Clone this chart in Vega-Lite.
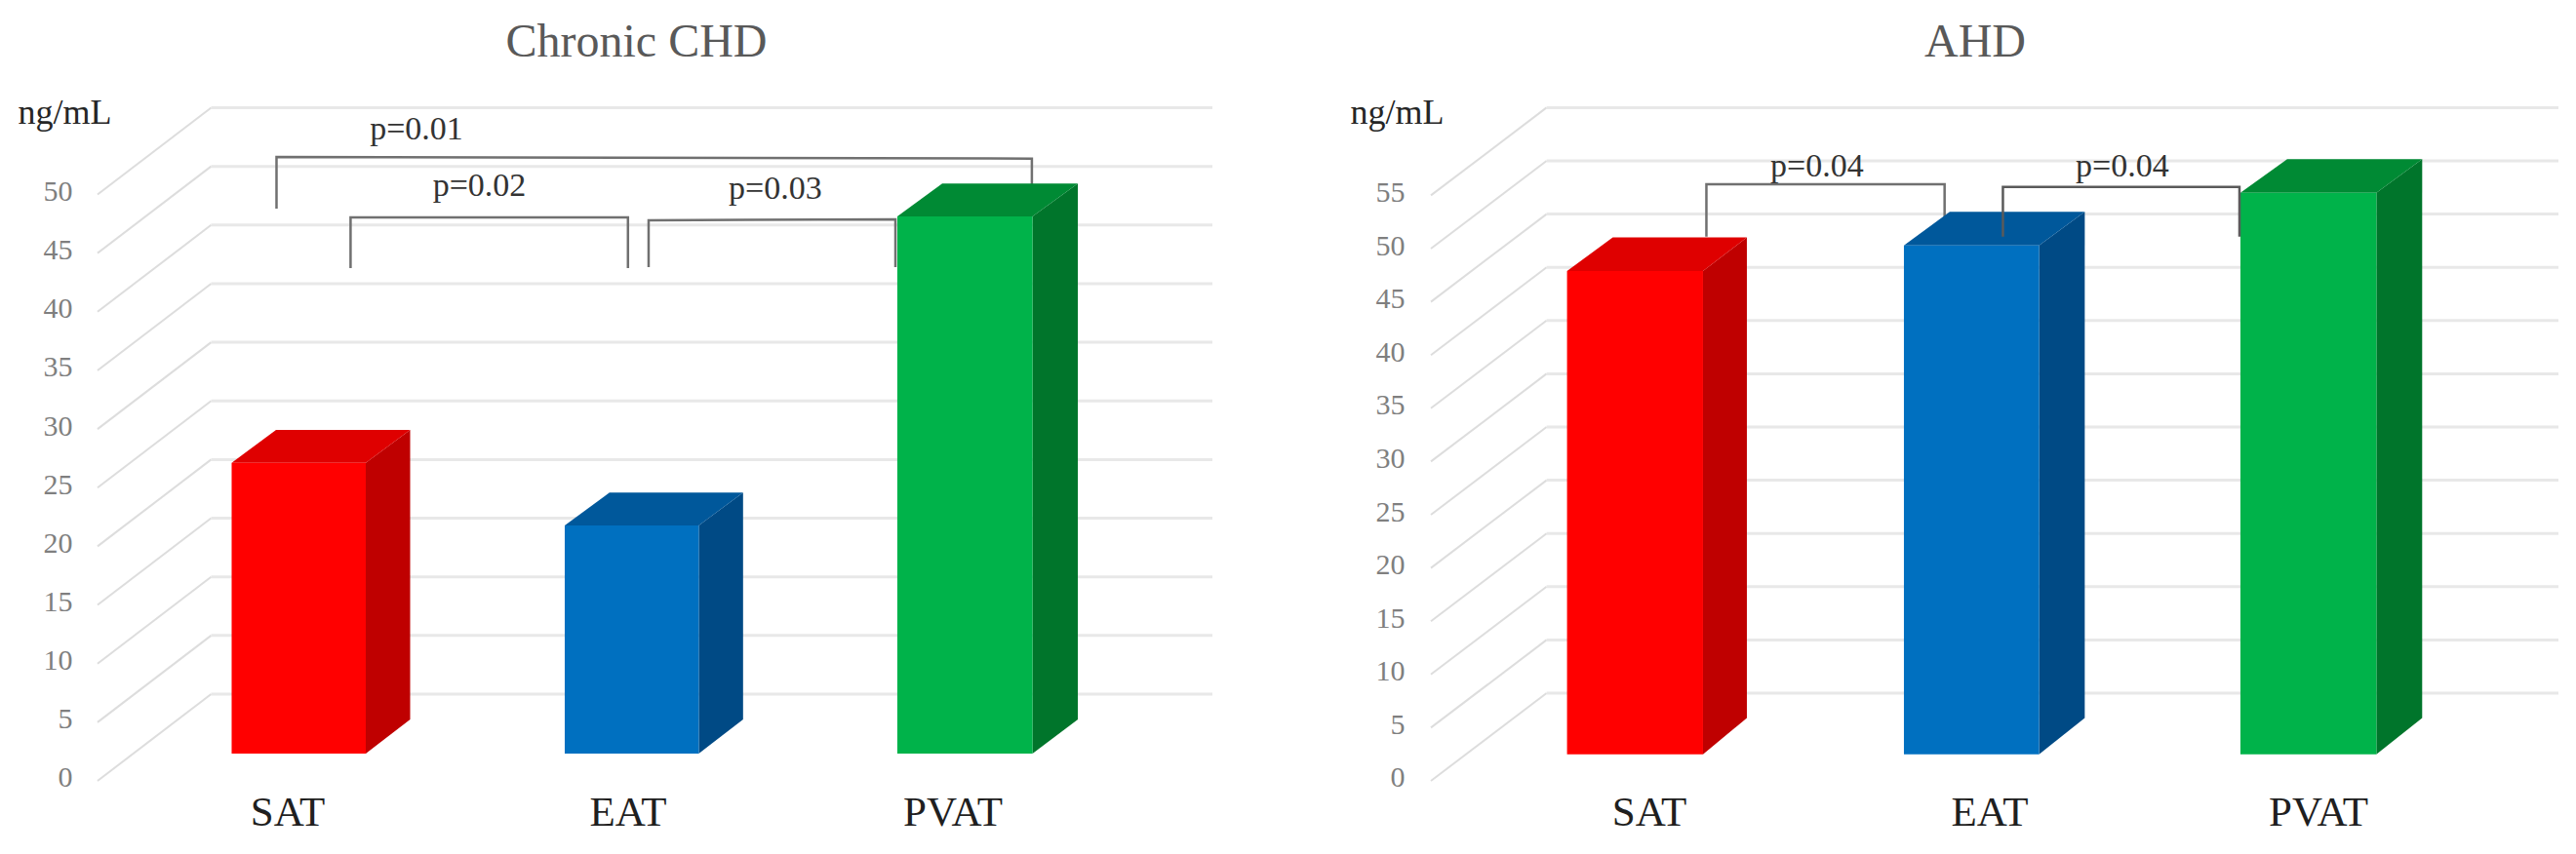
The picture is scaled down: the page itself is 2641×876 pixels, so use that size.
{
"$schema":"https://vega.github.io/schema/vega-lite/v6.json",
"background":"white",
"padding":{"left":18,"top":20,"right":0,"bottom":0},
"spacing":139,
"config":{"view":{"stroke":null},"font":"Liberation Serif"},
"datasets":{
"chdTicks":[{"tick":0},{"tick":5},{"tick":10},{"tick":15},{"tick":20},{"tick":25},{"tick":30},{"tick":35},{"tick":40},{"tick":45},{"tick":50}],
"ahdTicks":[{"tick":0},{"tick":5},{"tick":10},{"tick":15},{"tick":20},{"tick":25},{"tick":30},{"tick":35},{"tick":40},{"tick":45},{"tick":50},{"tick":55}],
"chdBars":[{"group":"SAT","value":24.8,"pos0":0.4026,"pos1":0.8053},{"group":"EAT","value":19.45,"pos0":1.4026,"pos1":1.805},{"group":"PVAT","value":45.8,"pos0":2.401,"pos1":2.807}],
"ahdBars":[{"group":"SAT","value":45.4,"pos0":0.4046,"pos1":0.8087},{"group":"EAT","value":47.8,"pos0":1.4058,"pos1":1.8075},{"group":"PVAT","value":52.75,"pos0":2.4058,"pos1":2.81}],
"chdSide":[{"group":"SAT","pos":0.8053,"top":27.13,"bottom":2.33},{"group":"SAT","pos":0.9385,"top":29.93,"bottom":5.24},{"group":"EAT","pos":1.805,"top":21.78,"bottom":2.33},{"group":"EAT","pos":1.938,"top":24.58,"bottom":5.24},{"group":"PVAT","pos":2.807,"top":48.13,"bottom":2.33},{"group":"PVAT","pos":2.943,"top":50.93,"bottom":5.24}],
"ahdSide":[{"group":"SAT","pos":0.8087,"top":47.9,"bottom":2.5},{"group":"SAT","pos":0.9391,"top":51.05,"bottom":5.9},{"group":"EAT","pos":1.8075,"top":50.3,"bottom":2.5},{"group":"EAT","pos":1.9432,"top":53.45,"bottom":5.9},{"group":"PVAT","pos":2.81,"top":55.25,"bottom":2.5},{"group":"PVAT","pos":2.946,"top":58.4,"bottom":5.9}],
"chdTop":[{"group":"SAT","level":27.13,"pos0":0.4026,"pos1":0.8053},{"group":"SAT","level":29.93,"pos0":0.5359,"pos1":0.9385},{"group":"EAT","level":21.78,"pos0":1.4026,"pos1":1.805},{"group":"EAT","level":24.58,"pos0":1.537,"pos1":1.938},{"group":"PVAT","level":48.13,"pos0":2.401,"pos1":2.807},{"group":"PVAT","level":50.93,"pos0":2.536,"pos1":2.943}],
"ahdTop":[{"group":"SAT","level":47.9,"pos0":0.4046,"pos1":0.8087},{"group":"SAT","level":51.05,"pos0":0.5406,"pos1":0.9391},{"group":"EAT","level":50.3,"pos0":1.4058,"pos1":1.8075},{"group":"EAT","level":53.45,"pos0":1.542,"pos1":1.9432},{"group":"PVAT","level":55.25,"pos0":2.4058,"pos1":2.81},{"group":"PVAT","level":58.4,"pos0":2.545,"pos1":2.946}],
"chdBrackets":[
{"bracket":"p=0.01","step":1,"pos":0.5373,"level":48.8},{"bracket":"p=0.01","step":2,"pos":0.5373,"level":53.2},{"bracket":"p=0.01","step":3,"pos":2.805,"level":53.06},{"bracket":"p=0.01","step":4,"pos":2.805,"level":48.8},
{"bracket":"p=0.02","step":1,"pos":0.7596,"level":43.72},{"bracket":"p=0.02","step":2,"pos":0.7596,"level":48.05},{"bracket":"p=0.02","step":3,"pos":1.5924,"level":48.05},{"bracket":"p=0.02","step":4,"pos":1.5924,"level":43.72},
{"bracket":"p=0.03","step":1,"pos":1.6544,"level":43.8},{"bracket":"p=0.03","step":2,"pos":1.6544,"level":47.8},{"bracket":"p=0.03","step":3,"pos":2.3953,"level":47.88},{"bracket":"p=0.03","step":4,"pos":2.3953,"level":43.8}],
"ahdBracketsBehind":[{"bracket":"SAT-EAT","step":1,"pos":0.8188,"level":51.13},{"bracket":"SAT-EAT","step":2,"pos":0.8188,"level":56.04},{"bracket":"SAT-EAT","step":3,"pos":1.5267,"level":56.04},{"bracket":"SAT-EAT","step":4,"pos":1.5267,"level":51.13}],
"ahdBracketsFront":[{"bracket":"EAT-PVAT","step":1,"pos":1.7,"level":51.13},{"bracket":"EAT-PVAT","step":2,"pos":1.7,"level":55.8},{"bracket":"EAT-PVAT","step":3,"pos":2.403,"level":55.8},{"bracket":"EAT-PVAT","step":4,"pos":2.403,"level":51.13}],
"chdP":[{"label":"p=0.01","pos":0.9575,"level":55.53},{"label":"p=0.02","pos":1.1464,"level":50.7},{"label":"p=0.03","pos":2.035,"level":50.46}],
"ahdP":[{"label":"p=0.04","pos":1.1478,"level":57.7},{"label":"p=0.04","pos":2.055,"level":57.7}],
"chdCat":[{"label":"SAT","pos":0.571,"level":-2.74},{"label":"EAT","pos":1.593,"level":-2.74},{"label":"PVAT","pos":2.568,"level":-2.74}],
"ahdCat":[{"label":"SAT","pos":0.6493,"level":-3.02},{"label":"EAT","pos":1.661,"level":-3.02},{"label":"PVAT","pos":2.638,"level":-3.02}]
},
"hconcat":[
{"width":1143,"height":776,
"title":{"text":"Chronic CHD","fontSize":48,"font":"Liberation Serif","fontWeight":"normal","color":"#595959","anchor":"middle","dx":-19,"offset":17},
"resolve":{"scale":{"color":"independent"}},
"layer":[
{"data":{"name":"chdTicks"},"mark":{"type":"rule","color":"#dddddd","strokeWidth":2,"y2Offset":-89},
"encoding":{"x":{"datum":0,"type":"quantitative","scale":{"domain":[0,3.347],"nice":false,"zero":false},"axis":null},"x2":{"datum":0.3411},
"y":{"field":"tick","type":"quantitative","scale":{"domain":[-4.988,59.52],"nice":false,"zero":false},
"axis":{"values":[0,5,10,15,20,25,30,35,40,45,50],"grid":false,"domain":false,"ticks":false,"labelPadding":26,"labelOffset":-3,"labelFontSize":30,"labelFont":"Liberation Serif","labelColor":"#7f7f7f","title":"ng/mL","titleAngle":0,"titleX":-82,"titleY":30,"titleAlign":"left","titleBaseline":"middle","titleFontSize":36,"titleFontWeight":"normal","titleFont":"Liberation Serif","titleColor":"#262626"}},"y2":{"field":"tick"}}},
{"data":{"name":"chdTicks"},"mark":{"type":"rule","color":"#e8e8e8","strokeWidth":3,"yOffset":-89},
"encoding":{"x":{"datum":0.3411,"type":"quantitative","scale":{"domain":[0,3.347],"nice":false,"zero":false}},"x2":{"datum":3.347},"y":{"field":"tick","type":"quantitative","scale":{"domain":[-4.988,59.52],"nice":false,"zero":false}}}},
{"data":{"name":"chdBrackets"},"mark":{"type":"line","color":"#707070","strokeWidth":2.5,"strokeJoin":"miter"},
"encoding":{"x":{"field":"pos","type":"quantitative","scale":{"domain":[0,3.347],"nice":false,"zero":false}},"y":{"field":"level","type":"quantitative","scale":{"domain":[-4.988,59.52],"nice":false,"zero":false}},"detail":{"field":"bracket"},"order":{"field":"step"}}},
{"data":{"name":"chdSide"},"mark":{"type":"area","orient":"vertical"},
"encoding":{"x":{"field":"pos","type":"quantitative","scale":{"domain":[0,3.347],"nice":false,"zero":false}},"y":{"field":"top","type":"quantitative","stack":null,"scale":{"domain":[-4.988,59.52],"nice":false,"zero":false}},"y2":{"field":"bottom"},"color":{"field":"group","type":"nominal","scale":{"domain":["SAT","EAT","PVAT"],"range":["#bf0000","#004a85","#00752b"]},"legend":null}}},
{"data":{"name":"chdTop"},"mark":{"type":"area","orient":"horizontal"},
"encoding":{"y":{"field":"level","type":"quantitative","scale":{"domain":[-4.988,59.52],"nice":false,"zero":false}},"x":{"field":"pos0","type":"quantitative","stack":null,"scale":{"domain":[0,3.347],"nice":false,"zero":false}},"x2":{"field":"pos1"},"color":{"field":"group","type":"nominal","scale":{"domain":["SAT","EAT","PVAT"],"range":["#df0000","#00589b","#008a34"]},"legend":null}}},
{"data":{"name":"chdBars"},"mark":{"type":"bar","yOffset":-28,"y2Offset":-28},
"encoding":{"x":{"field":"pos0","type":"quantitative","scale":{"domain":[0,3.347],"nice":false,"zero":false}},"x2":{"field":"pos1"},"y":{"field":"value","type":"quantitative","stack":null,"scale":{"domain":[-4.988,59.52],"nice":false,"zero":false}},"y2":{"datum":0},"color":{"field":"group","type":"nominal","scale":{"domain":["SAT","EAT","PVAT"],"range":["#ff0000","#0070c0","#00b34a"]},"legend":null}}},
{"data":{"name":"chdP"},"mark":{"type":"text","font":"Liberation Serif","fontSize":34,"color":"#333333","baseline":"middle"},
"encoding":{"x":{"field":"pos","type":"quantitative","scale":{"domain":[0,3.347],"nice":false,"zero":false}},"y":{"field":"level","type":"quantitative","scale":{"domain":[-4.988,59.52],"nice":false,"zero":false}},"text":{"field":"label"}}},
{"data":{"name":"chdCat"},"mark":{"type":"text","font":"Liberation Serif","fontSize":43,"color":"#1f1f1f","baseline":"middle"},
"encoding":{"x":{"field":"pos","type":"quantitative","scale":{"domain":[0,3.347],"nice":false,"zero":false}},"y":{"field":"level","type":"quantitative","scale":{"domain":[-4.988,59.52],"nice":false,"zero":false}},"text":{"field":"label"}}}
]},
{"width":1156,"height":776,
"title":{"text":"AHD","fontSize":48,"font":"Liberation Serif","fontWeight":"normal","color":"#595959","anchor":"middle","dx":-20,"offset":17},
"resolve":{"scale":{"color":"independent"}},
"layer":[
{"data":{"name":"ahdTicks"},"mark":{"type":"rule","color":"#dddddd","strokeWidth":2,"y2Offset":-90},
"encoding":{"x":{"datum":0,"type":"quantitative","scale":{"domain":[0,3.351],"nice":false,"zero":false},"axis":null},"x2":{"datum":0.3438},
"y":{"field":"tick","type":"quantitative","scale":{"domain":[-5.495,65.57],"nice":false,"zero":false},
"axis":{"values":[0,5,10,15,20,25,30,35,40,45,50,55],"grid":false,"domain":false,"ticks":false,"labelPadding":27,"labelOffset":-3,"labelFontSize":30,"labelFont":"Liberation Serif","labelColor":"#7f7f7f","title":"ng/mL","titleAngle":0,"titleX":-83,"titleY":30,"titleAlign":"left","titleBaseline":"middle","titleFontSize":36,"titleFontWeight":"normal","titleFont":"Liberation Serif","titleColor":"#262626"}},"y2":{"field":"tick"}}},
{"data":{"name":"ahdTicks"},"mark":{"type":"rule","color":"#e8e8e8","strokeWidth":3,"yOffset":-90},
"encoding":{"x":{"datum":0.3438,"type":"quantitative","scale":{"domain":[0,3.351],"nice":false,"zero":false}},"x2":{"datum":3.351},"y":{"field":"tick","type":"quantitative","scale":{"domain":[-5.495,65.57],"nice":false,"zero":false}}}},
{"data":{"name":"ahdBracketsBehind"},"mark":{"type":"line","color":"#707070","strokeWidth":2.5,"strokeJoin":"miter"},
"encoding":{"x":{"field":"pos","type":"quantitative","scale":{"domain":[0,3.351],"nice":false,"zero":false}},"y":{"field":"level","type":"quantitative","scale":{"domain":[-5.495,65.57],"nice":false,"zero":false}},"detail":{"field":"bracket"},"order":{"field":"step"}}},
{"data":{"name":"ahdSide"},"mark":{"type":"area","orient":"vertical"},
"encoding":{"x":{"field":"pos","type":"quantitative","scale":{"domain":[0,3.351],"nice":false,"zero":false}},"y":{"field":"top","type":"quantitative","stack":null,"scale":{"domain":[-5.495,65.57],"nice":false,"zero":false}},"y2":{"field":"bottom"},"color":{"field":"group","type":"nominal","scale":{"domain":["SAT","EAT","PVAT"],"range":["#bf0000","#004a85","#00752b"]},"legend":null}}},
{"data":{"name":"ahdTop"},"mark":{"type":"area","orient":"horizontal"},
"encoding":{"y":{"field":"level","type":"quantitative","scale":{"domain":[-5.495,65.57],"nice":false,"zero":false}},"x":{"field":"pos0","type":"quantitative","stack":null,"scale":{"domain":[0,3.351],"nice":false,"zero":false}},"x2":{"field":"pos1"},"color":{"field":"group","type":"nominal","scale":{"domain":["SAT","EAT","PVAT"],"range":["#df0000","#00589b","#008a34"]},"legend":null}}},
{"data":{"name":"ahdBars"},"mark":{"type":"bar","yOffset":-27.3,"y2Offset":-27.3},
"encoding":{"x":{"field":"pos0","type":"quantitative","scale":{"domain":[0,3.351],"nice":false,"zero":false}},"x2":{"field":"pos1"},"y":{"field":"value","type":"quantitative","stack":null,"scale":{"domain":[-5.495,65.57],"nice":false,"zero":false}},"y2":{"datum":0},"color":{"field":"group","type":"nominal","scale":{"domain":["SAT","EAT","PVAT"],"range":["#ff0000","#0070c0","#00b34a"]},"legend":null}}},
{"data":{"name":"ahdBracketsFront"},"mark":{"type":"line","color":"#5a5a5a","strokeWidth":2.5,"strokeJoin":"miter"},
"encoding":{"x":{"field":"pos","type":"quantitative","scale":{"domain":[0,3.351],"nice":false,"zero":false}},"y":{"field":"level","type":"quantitative","scale":{"domain":[-5.495,65.57],"nice":false,"zero":false}},"detail":{"field":"bracket"},"order":{"field":"step"}}},
{"data":{"name":"ahdP"},"mark":{"type":"text","font":"Liberation Serif","fontSize":34,"color":"#333333","baseline":"middle"},
"encoding":{"x":{"field":"pos","type":"quantitative","scale":{"domain":[0,3.351],"nice":false,"zero":false}},"y":{"field":"level","type":"quantitative","scale":{"domain":[-5.495,65.57],"nice":false,"zero":false}},"text":{"field":"label"}}},
{"data":{"name":"ahdCat"},"mark":{"type":"text","font":"Liberation Serif","fontSize":43,"color":"#1f1f1f","baseline":"middle"},
"encoding":{"x":{"field":"pos","type":"quantitative","scale":{"domain":[0,3.351],"nice":false,"zero":false}},"y":{"field":"level","type":"quantitative","scale":{"domain":[-5.495,65.57],"nice":false,"zero":false}},"text":{"field":"label"}}}
]}
]}
